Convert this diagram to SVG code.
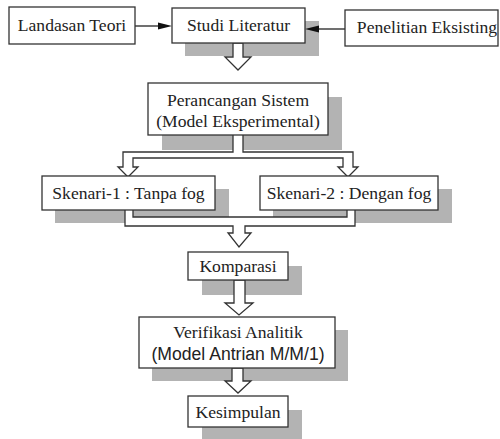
<svg xmlns="http://www.w3.org/2000/svg" width="500" height="439" viewBox="0 0 500 439">
<defs>
<style>
.box{fill:#fff;stroke:#333;stroke-width:1.3}
.sh{fill:#b3b3b3;stroke:none}
.blk{fill:#fff;stroke:#333;stroke-width:1.3;stroke-linejoin:miter}
.ln{stroke:#222;stroke-width:1.3;fill:none}
.hd{fill:#111}
text{font-family:"Liberation Serif","Times New Roman",serif;font-size:17.6px;fill:#222;text-anchor:middle}
.sans{font-family:"Liberation Sans",Arial,sans-serif}
</style>
</defs>
<rect width="500" height="439" fill="#fff"/>
<g id="shadows">
<rect class="sh" x="185" y="21" width="134" height="35"/>
<rect class="sh" x="162" y="97" width="180" height="53"/>
<rect class="sh" x="55" y="189" width="174" height="34"/>
<rect class="sh" x="273" y="189" width="179" height="34"/>
<rect class="sh" x="202" y="266" width="100" height="29"/>
<rect class="sh" x="152" y="330" width="196" height="51"/>
<rect class="sh" x="202" y="410" width="100" height="32"/>
</g>
<g id="connectors">
<line class="ln" x1="135" y1="26" x2="160" y2="26"/>
<polygon class="hd" points="158,22.5 172,26 158,29.5"/>
<line class="ln" x1="345" y1="29" x2="317" y2="29"/>
<polygon class="hd" points="319,25.5 305,29 319,32.5"/>
<polygon class="blk" points="233,43 233,57 225,57 238,70 251,57 243,57 243,43"/>
<path class="blk" d="M233,135 L233,152 L123,152 L123,167 L118,167 L128,177 L138,167 L133,167 L133,158 L343,158 L343,167 L338,167 L348,177 L358,167 L353,167 L353,152 L243,152 L243,135"/>
<path class="blk" d="M125,210 L125,226 L233,226 L233,233 L228,233 L239,247 L251,233 L245,233 L245,226 L355,226 L355,210 M347,210 L347,217 L133,217 L133,210"/>
<polygon class="blk" points="234,280 234,303 225,303 239,315 253,303 245,303 245,280"/>
<polygon class="blk" points="232,368 232,381 225,381 238,393 251,381 243,381 243,368"/>
</g>
<g id="landasan"><rect class="box" x="9" y="7" width="126" height="37"/><text x="72" y="31">Landasan Teori</text></g>
<g id="studi"><rect class="box" x="172" y="8" width="133" height="35"/><text x="238.5" y="31">Studi Literatur</text></g>
<g id="penelitian"><rect class="box" x="345" y="10" width="153" height="36"/><text x="427" y="33">Penelitian Eksisting</text></g>
<g id="perancangan"><rect class="box" x="148" y="83" width="180" height="52"/><text x="238" y="106">Perancangan Sistem</text><text x="238" y="127">(Model Eksperimental)</text></g>
<g id="skenari1"><rect class="box" x="42" y="176" width="173" height="34"/><text x="128.5" y="199">Skenari-1 : Tanpa fog</text></g>
<g id="skenari2"><rect class="box" x="260" y="176" width="178" height="34"/><text x="349" y="199">Skenari-2 : Dengan fog</text></g>
<g id="komparasi"><rect class="box" x="188" y="252" width="100" height="28"/><text x="238" y="272">Komparasi</text></g>
<g id="verifikasi"><rect class="box" x="139" y="317" width="196" height="51"/><text x="238" y="338">Verifikasi Analitik</text><text class="sans" x="238" y="360">(Model Antrian M/M/1)</text></g>
<g id="kesimpulan"><rect class="box" x="188" y="396" width="100" height="31"/><text x="238" y="418">Kesimpulan</text></g>
</svg>
